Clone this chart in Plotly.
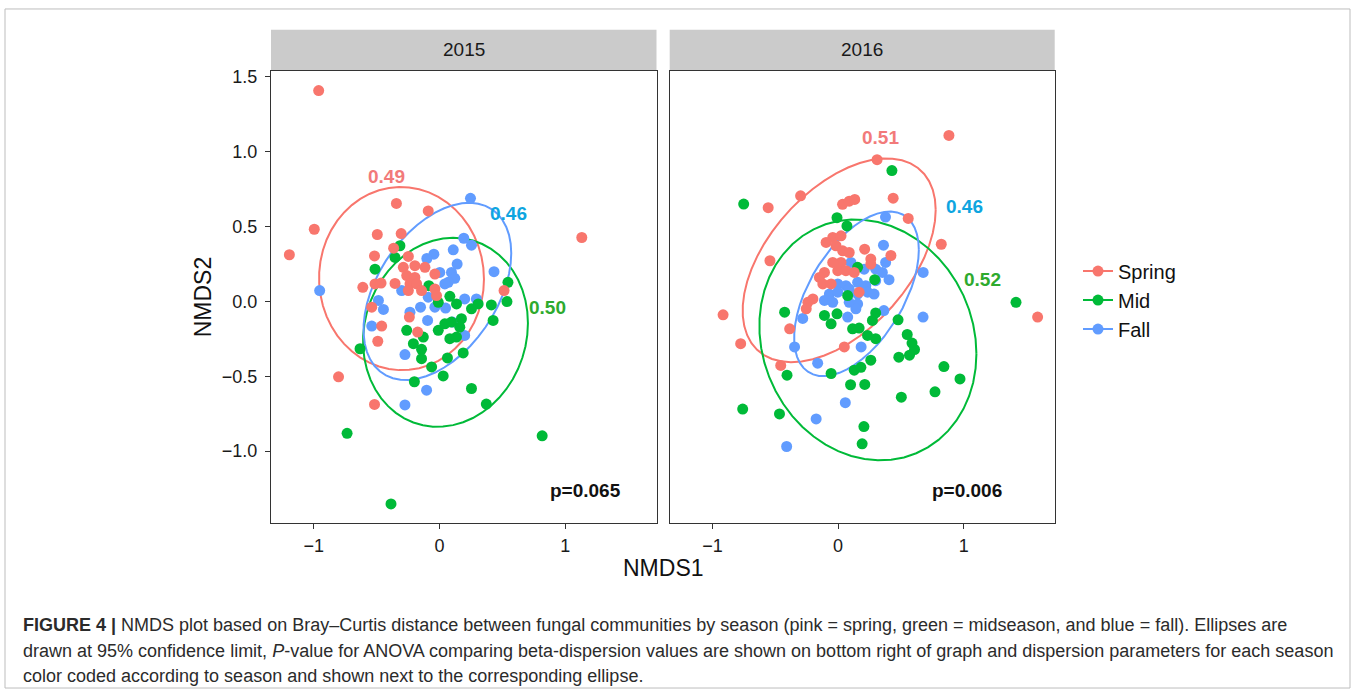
import numpy as np
import plotly.graph_objects as go

W, H = 1355, 693

# ---------------- data (NMDS coordinates) ----------------
years = ["2015", "2016"]
season_names = ["Spring", "Mid", "Fall"]
season_colors = ["#F8766D", "#00BA38", "#619CFF"]
label_colors = ["#F27A7A", "#2EAA2E", "#0EA5E0"]

spring_2015_x = [-0.961, -0.343, -0.090, -0.996, -0.495, -0.305, 1.131, -1.194, -0.365, -0.517,
                 -0.248, -0.288, -0.196, -0.116, -0.037, -0.261, -0.196, -0.235, -0.182, -0.143,
                 -0.248, -0.037, -0.024, -0.610, -0.513, -0.465, -0.354, 0.513, -0.539, -0.240,
                 -0.174, -0.460, -0.491, -0.803, -0.517]
spring_2015_y = [1.405, 0.652, 0.602, 0.480, 0.445, 0.451, 0.425, 0.310, 0.354, 0.302,
                 0.299, 0.226, 0.237, 0.226, 0.181, 0.171, 0.159, 0.115, 0.115, 0.071,
                 0.071, 0.082, 0.038, 0.093, 0.115, 0.121, 0.119, 0.071, -0.040, -0.106,
                 -0.206, -0.166, -0.267, -0.504, -0.688]

mid_2015_x = [-0.315, -0.354, -0.513, 0.544, 0.536, -0.085, -0.010, 0.082, 0.135, 0.307,
              0.412, 0.254, -0.261, -0.129, -0.208, -0.143, -0.010, 0.042, 0.095, 0.174,
              0.161, 0.082, 0.135, 0.426, -0.632, -0.143, -0.063, 0.063, 0.188, 0.029,
              -0.200, 0.254, 0.372, -0.735, 0.816, -0.386]
mid_2015_y = [0.370, 0.292, 0.214, 0.126, -0.002, 0.104, -0.007, 0.033, -0.018, -0.018,
              -0.025, -0.051, -0.194, -0.239, -0.283, -0.321, -0.194, -0.151, -0.139, -0.117,
              -0.173, -0.250, -0.239, -0.128, -0.317, -0.383, -0.438, -0.378, -0.345, -0.498,
              -0.537, -0.582, -0.686, -0.881, -0.898, -1.352]

fall_2015_x = [0.246, 0.193, 0.254, 0.109, -0.045, -0.101, 0.140, 0.002, 0.095, 0.121,
               0.069, 0.433, -0.953, -0.301, -0.090, 0.200, 0.293, -0.151, -0.235, -0.037,
               0.048, -0.486, -0.446, -0.095, 0.103, 0.200, -0.539, -0.275, -0.103, -0.275,
               0.042]
fall_2015_y = [0.686, 0.420, 0.374, 0.343, 0.314, 0.285, 0.248, 0.192, 0.192, 0.153,
               0.126, 0.197, 0.071, 0.071, 0.027, 0.015, 0.015, -0.040, -0.073, -0.040,
               -0.046, 0.005, -0.055, -0.128, -0.139, -0.228, -0.166, -0.356, -0.593, -0.692,
               0.115]

spring_2016_x = [0.883, 0.311, -0.298, -0.556, 0.036, 0.089, 0.133, 0.439, 0.559, 0.822,
                 -0.542, -0.042, 0.024, -0.095, -0.016, 0.037, 0.089, 0.212, 0.261, 0.421,
                 0.024, -0.042, -0.002, 0.063, 0.129, 0.261, -0.108, -0.148, -0.121, -0.055,
                 0.168, -0.200, -0.240, -0.253, -0.915, 1.589, -0.385, -0.775, 0.050, -0.456]
spring_2016_y = [1.106, 0.944, 0.703, 0.624, 0.646, 0.667, 0.679, 0.687, 0.552, 0.380,
                 0.270, 0.425, 0.436, 0.392, 0.370, 0.336, 0.325, 0.347, 0.281, 0.305,
                 0.259, 0.259, 0.204, 0.204, 0.192, 0.248, 0.192, 0.159, 0.115, 0.115,
                 0.060, 0.015, -0.007, -0.051, -0.091, -0.106, -0.184, -0.283, -0.305, -0.428]

mid_2016_x = [0.429, -0.751, -0.008, 0.071, 0.156, 0.292, 0.077, -0.425, -0.108, -0.055,
              -0.008, 0.274, 0.300, 0.478, 0.116, 0.168, 0.235, 0.300, 0.551, 0.589,
              0.609, 0.569, 0.484, 0.261, 0.129, 0.182, -0.055, -0.406, 0.843, 0.971,
              0.100, 0.213, 0.772, 0.504, -0.759, -0.466, 0.206, 0.192, 1.417]
mid_2016_y = [0.871, 0.648, 0.557, 0.502, 0.226, 0.144, 0.038, -0.073, -0.095, -0.151,
              -0.084, -0.128, -0.078, -0.124, -0.184, -0.179, -0.228, -0.250, -0.222, -0.279,
              -0.322, -0.360, -0.373, -0.393, -0.460, -0.441, -0.482, -0.493, -0.436, -0.518,
              -0.557, -0.555, -0.604, -0.640, -0.719, -0.752, -0.836, -0.951, -0.007]

fall_2016_x = [0.378, 0.362, 0.103, 0.010, 0.208, 0.300, 0.353, 0.379, 0.678, -0.002,
               0.063, 0.156, 0.221, 0.300, 0.406, -0.069, -0.002, 0.089, 0.156, 0.235,
               0.287, -0.108, -0.042, 0.089, 0.156, 0.142, 0.077, 0.365, -0.281, 0.677,
               -0.346, 0.184, -0.162, 0.058, -0.174, -0.409]
fall_2016_y = [0.561, 0.374, 0.259, 0.248, 0.214, 0.214, 0.192, 0.259, 0.192, 0.115,
               0.104, 0.126, 0.104, 0.137, 0.144, 0.048, 0.060, 0.082, 0.048, 0.060,
               0.048, 0.005, -0.007, -0.007, -0.018, -0.051, -0.106, -0.062, -0.115, -0.106,
               -0.305, -0.305, -0.413, -0.677, -0.785, -0.969]

# dispersion parameters and their label positions (data units)
dispersion_2015 = ["0.49", "0.50", "0.46"]
dispersion_2016 = ["0.51", "0.52", "0.46"]
disp_pos_2015_x = [-0.42, 0.86, 0.55]
disp_pos_2015_y = [0.835, -0.04, 0.585]
disp_pos_2016_x = [0.34, 1.15, 1.01]
disp_pos_2016_y = [1.095, 0.145, 0.63]

p_values = ["p=0.065", "p=0.006"]
p_pos_x = [1.16, 1.03]
p_pos_y = [-1.262, -1.262]

x_ticks = [-1, 0, 1]
y_ticks = [-1.0, -0.5, 0.0, 0.5, 1.0, 1.5]
y_tick_text = ["\u22121.0", "\u22120.5", "0.0", "0.5", "1.0", "1.5"]
x_tick_text = ["\u22121", "0", "1"]

caption_1 = ("<b>FIGURE 4 |</b> NMDS plot based on Bray\u2013Curtis distance between fungal communities by season "
             "(pink = spring, green = midseason, and blue = fall). Ellipses are")
caption_2 = ("drawn at 95% confidence limit, <i>P</i>-value for ANOVA comparing beta-dispersion values are shown "
             "on bottom right of graph and dispersion parameters for each season")
caption_3 = "color coded according to season and shown next to the corresponding ellipse."

data = {
    "2015": [(spring_2015_x, spring_2015_y), (mid_2015_x, mid_2015_y), (fall_2015_x, fall_2015_y)],
    "2016": [(spring_2016_x, spring_2016_y), (mid_2016_x, mid_2016_y), (fall_2016_x, fall_2016_y)],
}


# ---------------- ggplot2 stat_ellipse (type = "t", level = 0.95) ----------------
def stat_ellipse(x, y, level=0.95, segments=51, nu=5, maxit=25, tol=0.01):
    pts = np.column_stack([x, y]).astype(float)
    n, p = pts.shape
    wt = np.ones(n)
    loc = pts.mean(axis=0)
    w = np.sqrt(wt)
    X = pts - loc
    for _ in range(maxit):
        w0 = w
        X = pts - loc
        _, d, vt = np.linalg.svd(np.sqrt(w / w.sum())[:, None] * X, full_matrices=False)
        wX = X @ vt.T @ np.diag(1.0 / d)
        Q = (wX ** 2).sum(axis=1)
        w = wt * (nu + p) / (nu + Q)
        loc = (w[:, None] * pts).sum(axis=0) / w.sum()
        if np.all(np.abs(w - w0) < tol):
            break
    sw = np.sqrt(w)[:, None] * X
    cov = sw.T @ sw / wt.sum()
    R = np.linalg.cholesky(cov).T
    dfd = n - 1
    qf = dfd / 2.0 * ((1 - level) ** (-2.0 / dfd) - 1)
    radius = np.sqrt(2 * qf)
    ang = np.linspace(0, 2 * np.pi, segments + 1)
    circ = np.column_stack([np.cos(ang), np.sin(ang)])
    e = loc + radius * (circ @ R)
    return e[:, 0], e[:, 1]


fig = go.Figure()
axis_ids = {"2015": ("x", "y"), "2016": ("x2", "y2")}

# ellipses first
for yr in years:
    xa, ya = axis_ids[yr]
    for i, (sx, sy) in enumerate(data[yr]):
        ex, ey = stat_ellipse(sx, sy)
        fig.add_trace(go.Scatter(x=ex, y=ey, mode="lines", xaxis=xa, yaxis=ya,
                                 line=dict(color=season_colors[i], width=2),
                                 showlegend=False, hoverinfo="skip"))

# points (fall, mid, spring)
for yr in years:
    xa, ya = axis_ids[yr]
    for i in [2, 1, 0]:
        sx, sy = data[yr][i]
        fig.add_trace(go.Scatter(x=sx, y=sy, mode="markers", xaxis=xa, yaxis=ya,
                                 marker=dict(color=season_colors[i], size=11, line=dict(width=0)),
                                 name=season_names[i], showlegend=False))

# legend keys
for i in range(3):
    fig.add_trace(go.Scatter(x=[None], y=[None], mode="lines+markers", xaxis="x", yaxis="y",
                             marker=dict(color=season_colors[i], size=11),
                             line=dict(color=season_colors[i], width=2),
                             name=season_names[i], showlegend=True))

font_main = "Liberation Sans, Arial, sans-serif"

# panel geometry (pixels -> paper)
def px(v):
    return v / W

def py(v):
    return 1 - v / H

dom_x1 = [px(271), px(656.5)]
dom_x2 = [px(669.7), px(1054.7)]
dom_y = [py(522), py(67)]
x_range = [-1.34, 1.725]
y_range = [-1.479, 1.538]

axis_common = dict(showgrid=False, zeroline=False, showline=True, mirror=True,
                   linecolor="#333333", linewidth=1, ticks="outside", ticklen=5,
                   tickcolor="#333333", tickwidth=1, ticklabelstandoff=4,
                   tickfont=dict(family=font_main, size=18, color="#1A1A1A"))

fig.update_layout(
    width=W, height=H, margin=dict(l=0, r=0, t=0, b=0),
    paper_bgcolor="white", plot_bgcolor="white",
    xaxis=dict(domain=dom_x1, range=x_range, tickvals=x_ticks, ticktext=x_tick_text,
               anchor="y", **{**axis_common, "ticklabelstandoff": 1}),
    xaxis2=dict(domain=dom_x2, range=x_range, tickvals=x_ticks, ticktext=x_tick_text,
                anchor="y2", **{**axis_common, "ticklabelstandoff": 1}),
    yaxis=dict(domain=dom_y, range=y_range, tickvals=y_ticks, ticktext=y_tick_text,
               anchor="x", **axis_common),
    yaxis2=dict(domain=dom_y, range=y_range, tickvals=y_ticks, showticklabels=False,
                anchor="x2", **{**axis_common, "ticks": ""}),
    legend=dict(x=px(1078), y=py(249), xanchor="left", yanchor="top",
                font=dict(family=font_main, size=20, color="#111111"),
                bgcolor="rgba(0,0,0,0)", tracegroupgap=0, itemwidth=30),
    showlegend=True,
)

shapes = []
# outer figure border
shapes.append(dict(type="rect", xref="paper", yref="paper", x0=px(5), x1=px(1350), y0=py(688), y1=py(5),
                   line=dict(color="#BDBDBD", width=1), fillcolor="rgba(0,0,0,0)"))
# strips
for d in (dom_x1, dom_x2):
    shapes.append(dict(type="rect", xref="paper", yref="paper", x0=d[0], x1=d[1], y0=py(66.5), y1=py(26),
                       line=dict(color="#C9C9C9", width=0), fillcolor="#CBCBCB", layer="below"))
fig.update_layout(shapes=shapes)

ann = []
for d, yr in zip((dom_x1, dom_x2), years):
    ann.append(dict(x=(d[0] + d[1]) / 2, y=py(46), xref="paper", yref="paper", text=yr, showarrow=False,
                    font=dict(family=font_main, size=19, color="#1A1A1A"), xanchor="center", yanchor="middle"))

for i in range(3):
    ann.append(dict(x=disp_pos_2015_x[i], y=disp_pos_2015_y[i], xref="x", yref="y", text="<b>%s</b>" % dispersion_2015[i],
                    showarrow=False, font=dict(family=font_main, size=19, color=label_colors[i])))
    ann.append(dict(x=disp_pos_2016_x[i], y=disp_pos_2016_y[i], xref="x2", yref="y2", text="<b>%s</b>" % dispersion_2016[i],
                    showarrow=False, font=dict(family=font_main, size=19, color=label_colors[i])))

for j, (xr, yr_) in enumerate([("x", "y"), ("x2", "y2")]):
    ann.append(dict(x=p_pos_x[j], y=p_pos_y[j], xref=xr, yref=yr_, text="<b>%s</b>" % p_values[j],
                    showarrow=False, font=dict(family=font_main, size=19, color="#111111")))

# axis titles
ann.append(dict(x=px(663), y=py(567), xref="paper", yref="paper", text="NMDS1", showarrow=False,
                font=dict(family=font_main, size=23, color="#111111"), xanchor="center", yanchor="middle"))
ann.append(dict(x=px(203), y=py(295), xref="paper", yref="paper", text="NMDS2", showarrow=False, textangle=-90,
                font=dict(family=font_main, size=23, color="#111111"), xanchor="center", yanchor="middle"))

# caption
cap_font = dict(family="Liberation Sans, Arial, sans-serif", size=18, color="#2b2b2b")
for k, (t, yy) in enumerate([(caption_1, 625), (caption_2, 651), (caption_3, 676)]):
    ann.append(dict(x=px(21), y=py(yy), xref="paper", yref="paper", text=t, showarrow=False,
                    xanchor="left", yanchor="middle", align="left", font=cap_font))

fig.update_layout(annotations=ann)
fig.write_html("out.html")
